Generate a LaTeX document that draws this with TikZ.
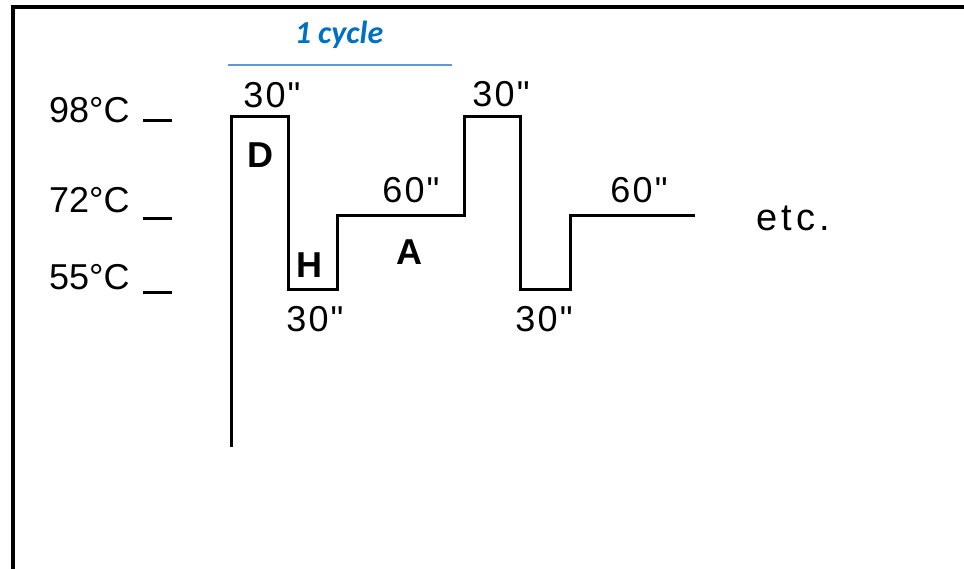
\documentclass[tikz,border=0pt]{standalone}
\usepackage{fontspec}
\setmainfont{Liberation Sans}
\newfontfamily\plainfont{Liberation Sans}
\newfontfamily\cyclefont{Carlito}
\usepackage{xcolor}
\usetikzlibrary{positioning}
\definecolor{cycleblue}{HTML}{0070C0}
\definecolor{barblue}{HTML}{5B9BD5}

\begin{document}
\begin{tikzpicture}[
    x=1pt, y=-1pt,
    lbl/.style={inner sep=0pt, anchor=base, font=\fontsize{36}{36}\plainfont\addfontfeature{LetterSpace=6}},
    phase/.style={lbl, font=\fontsize{36}{36}\selectfont\bfseries},
    temp/.style={lbl, anchor=base west, font=\fontsize{36}{36}\plainfont},
    tick/.style={line width=3pt},
    wave/.style={line width=3pt, line join=miter},
    frame/.style={line width=4pt}
]
\useasboundingbox (0,0) rectangle (964,569);
\draw[frame] (13,569) |- (964,7.5);

% cycle marker
\node[inner sep=0pt, anchor=base, text=cycleblue, font=\fontsize{32}{32}\cyclefont\bfseries\itshape] (cycle) at (339,44) {1 cycle};
\draw[barblue, line width=2pt] (228,65.5) -- (452,65.5);

% temperature levels
\node[temp] (t98) at (49,123) {98°C};
\node[temp] (t72) at (49,213) {72°C};
\node[temp] (t55) at (49,290) {55°C};
\draw[tick] (143,121) -- (172,121);
\draw[tick] (143,219) -- (172,219);
\draw[tick] (143,293) -- (172,293);

% temperature profile
\draw[wave] (231,447) |- (288,117) |- (337,290) |- (464,216) |- (520,117) |- (570,290) |- (695,216);

% durations
\node[lbl] (d1) at (272,108) {30"};
\node[lbl] (h1) at (315,332) {30"};
\node[lbl] (a1) at (411,203) {60"};
\node[lbl] (d2) at (501,107) {30"};
\node[lbl] (h2) at (544,332) {30"};
\node[lbl] (a2) at (639,203) {60"};
\node[lbl, font=\fontsize{38}{38}\plainfont\addfontfeature{LetterSpace=11}] (etc) at (793,231) {etc.};

% steps
\node[phase] (D) at (260,168) {D};
\node[phase] (H) at (309,278) {H};
\node[phase] (A) at (409,265) {A};
\end{tikzpicture}
\end{document}
